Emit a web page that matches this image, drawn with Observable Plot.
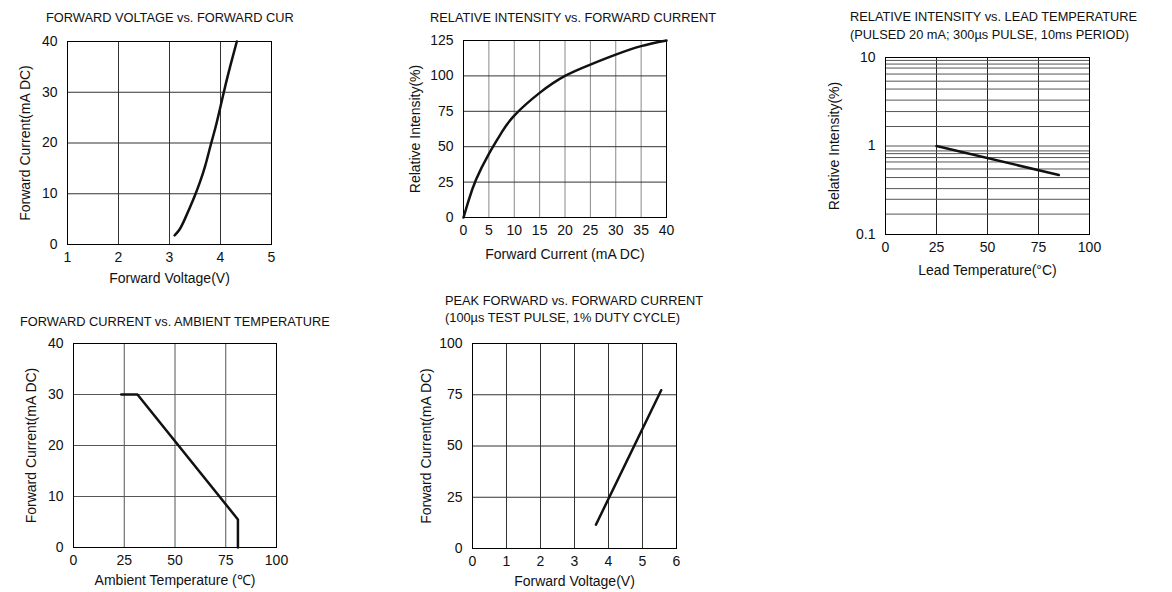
<!DOCTYPE html>
<html><head><meta charset="utf-8">
<script src="https://cdn.jsdelivr.net/npm/d3@7"></script>
<script src="https://cdn.jsdelivr.net/npm/@observablehq/plot@0.6"></script>
<style>
body{margin:0;background:#fff;width:1172px;height:592px;overflow:hidden;position:relative;font-family:"Liberation Sans",Arial,sans-serif;}
.title{position:absolute;font-size:12.8px;color:#111;white-space:nowrap;}
.chart{position:absolute;}
</style></head><body>
<script>
// ---- Chart 1: Forward voltage vs forward current
const c1Voltage = [3.1, 3.2, 3.3, 3.4, 3.5, 3.6, 3.7, 3.8, 3.9, 4.0, 4.1, 4.2, 4.32];
const c1Current = [1.8, 3.0, 5.0, 7.3, 9.7, 12.4, 15.5, 19.3, 23.0, 27.2, 31.5, 35.5, 40.0];
const c1XTicks = [1, 2, 3, 4, 5];
const c1YTicks = [0, 10, 20, 30, 40];

// ---- Chart 2: Relative intensity vs forward current
const c2Current = [0, 1, 2.5, 5, 7.5, 10, 15, 20, 25, 30, 35, 40];
const c2Intensity = [0, 12, 27, 45, 60, 72, 88, 100, 108, 115, 121, 125];
const c2XTicks = [0, 5, 10, 15, 20, 25, 30, 35, 40];
const c2YTicks = [0, 25, 50, 75, 100, 125];

// ---- Chart 3: Relative intensity vs lead temperature (log)
const c3Temp = [25, 85];
const c3Intensity = [1.0, 0.47];
const c3XTicks = [0, 25, 50, 75, 100];
const c3YTicks = [0.1, 1, 10];
const c3YGrid = [0.1, 0.17, 0.25, 0.33, 0.44, 0.55, 0.66, 0.74, 0.82, 0.88, 1,
                 1.66, 2.45, 3.3, 4.4, 5.4, 6.5, 7.6, 8.43, 9.27, 10];

// ---- Chart 4: Forward current vs ambient temperature
const c4Temp = [23.5, 31.5, 81, 81];
const c4Current = [30, 30, 5.5, 0];
const c4XTicks = [0, 25, 50, 75, 100];
const c4YTicks = [0, 10, 20, 30, 40];

// ---- Chart 5: Peak forward vs forward current
const c5Voltage = [3.63, 5.55];
const c5Current = [11.6, 77.2];
const c5XTicks = [0, 1, 2, 3, 4, 5, 6];
const c5YTicks = [0, 25, 50, 75, 100];

const FONT = '"Liberation Sans", Arial, sans-serif';

function addTitle(lines, left, top, lh) {
  const d = document.createElement("div");
  d.className = "title";
  d.style.left = left + "px";
  d.style.top = top + "px";
  d.style.lineHeight = lh + "px";
  d.innerHTML = lines.map(s => s.replace(/&/g,"&amp;").replace(/</g,"&lt;")).join("<br>");
  document.body.appendChild(d);
}

function addChart(o) {
  const ML = 70, MR = 12, MT = 12, MB = 50;
  const w = o.fr - o.fl, h = o.fb - o.ft;
  const data = o.xs.map((x, i) => ({x, y: o.ys[i]}));
  const svg = Plot.plot({
    width: w + ML + MR, height: h + MT + MB,
    marginLeft: ML, marginRight: MR, marginTop: MT, marginBottom: MB,
    style: {fontFamily: FONT, fontSize: "14px", color: "#111", background: "transparent", overflow: "visible"},
    x: {domain: o.xDomain, axis: null},
    y: {domain: o.yDomain, type: o.yType || "linear", axis: null},
    marks: [
      Plot.gridX(o.xGrid, {stroke: o.xGridStroke, strokeOpacity: 1}),
      Plot.gridY(o.yGrid, {stroke: o.yGridStroke, strokeOpacity: 1}),
      Plot.frame({stroke: "#000", strokeWidth: 1}),
      Plot.axisX(o.xTicks, {tickSize: 0, tickPadding: 8, label: null, fontSize: 14, tickFormat: d => String(d)}),
      Plot.axisY(o.yTicks, {tickSize: 0, tickPadding: 10, label: null, fontSize: 14, tickFormat: d => String(d)}),
      Plot.line(data, {x: "x", y: "y", stroke: "#111", strokeWidth: 2.5, curve: o.curve || "linear"}),
      Plot.text([o.xLabel], {text: d => d, frameAnchor: "bottom", dy: o.xLabelDy, lineAnchor: "middle", textAnchor: "middle", fontSize: 14}),
      Plot.text([o.yLabel], {text: d => d, frameAnchor: "left", dx: -o.yLabelDx, rotate: -90, lineAnchor: "middle", textAnchor: "middle", fontSize: 14})
    ]
  });
  const div = document.createElement("div");
  div.className = "chart";
  div.style.left = (o.fl - ML) + "px";
  div.style.top = (o.ft - MT) + "px";
  div.appendChild(svg);
  document.body.appendChild(div);
}

addTitle(["FORWARD VOLTAGE vs. FORWARD CUR"], 46, 10, 16);
addChart({fl: 67, fr: 271, ft: 41, fb: 244, xs: c1Voltage, ys: c1Current, curve: "natural",
  xDomain: [1, 5], yDomain: [0, 40], xTicks: c1XTicks, yTicks: c1YTicks,
  xGrid: c1XTicks, yGrid: c1YTicks, xGridStroke: "#333", yGridStroke: "#333",
  xLabel: "Forward Voltage(V)", yLabel: "Forward Current(mA DC)", xLabelDy: 34, yLabelDx: 42});

addTitle(["RELATIVE INTENSITY vs. FORWARD CURRENT"], 430, 10, 16);
addChart({fl: 463, fr: 666, ft: 40, fb: 217, xs: c2Current, ys: c2Intensity, curve: "natural",
  xDomain: [0, 40], yDomain: [0, 125], xTicks: c2XTicks, yTicks: c2YTicks,
  xGrid: c2XTicks, yGrid: c2YTicks, xGridStroke: "#888", yGridStroke: "#333",
  xLabel: "Forward Current (mA DC)", yLabel: "Relative Intensity(%)", xLabelDy: 37, yLabelDx: 48});

addTitle(["RELATIVE INTENSITY vs. LEAD TEMPERATURE", "(PULSED 20 mA; 300µs PULSE, 10ms PERIOD)"], 850, 8, 18);
addChart({fl: 885, fr: 1089, ft: 57, fb: 234, xs: c3Temp, ys: c3Intensity,
  xDomain: [0, 100], yDomain: [0.1, 10], yType: "log", xTicks: c3XTicks, yTicks: c3YTicks,
  xGrid: c3XTicks, yGrid: c3YGrid, xGridStroke: "#222", yGridStroke: "#555",
  xLabel: "Lead Temperature(°C)", yLabel: "Relative Intensity(%)", xLabelDy: 36, yLabelDx: 51});

addTitle(["FORWARD CURRENT vs. AMBIENT TEMPERATURE"], 20, 314, 16);
addChart({fl: 73, fr: 276, ft: 343, fb: 547, xs: c4Temp, ys: c4Current,
  xDomain: [0, 100], yDomain: [0, 40], xTicks: c4XTicks, yTicks: c4YTicks,
  xGrid: c4XTicks, yGrid: c4YTicks, xGridStroke: "#555", yGridStroke: "#555",
  xLabel: "Ambient Temperature (℃)", yLabel: "Forward Current(mA DC)", xLabelDy: 33, yLabelDx: 42});

addTitle(["PEAK FORWARD vs. FORWARD CURRENT", "(100µs TEST PULSE, 1% DUTY CYCLE)"], 445, 292, 17);
addChart({fl: 472, fr: 676, ft: 343, fb: 548, xs: c5Voltage, ys: c5Current,
  xDomain: [0, 6], yDomain: [0, 100], xTicks: c5XTicks, yTicks: c5YTicks,
  xGrid: c5XTicks, yGrid: c5YTicks, xGridStroke: "#333", yGridStroke: "#333",
  xLabel: "Forward Voltage(V)", yLabel: "Forward Current(mA DC)", xLabelDy: 33, yLabelDx: 46});
</script>
</body></html>
